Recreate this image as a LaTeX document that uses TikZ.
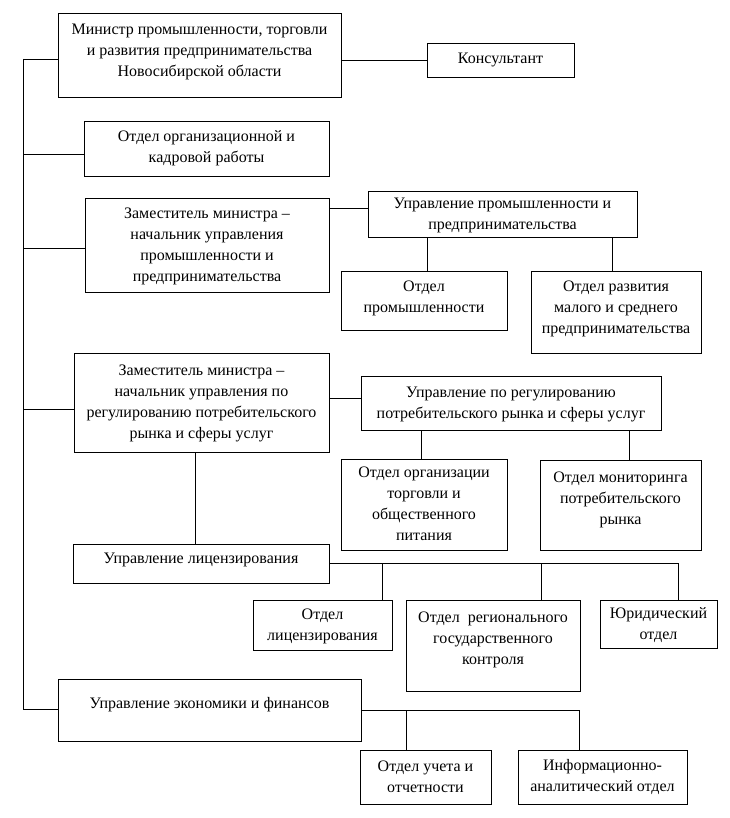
\documentclass[tikz,border=0pt]{standalone}
\usepackage{fontspec}
\setmainfont{Liberation Serif}
\usetikzlibrary{calc}
\tikzset{
  box/.style={draw,line width=0.9pt,align=center,inner sep=2pt,text depth=1pt,
    font=\fontsize{16}{21}\selectfont},
  conn/.style={line width=0.9pt},
  lift/.style={text depth=#1}
}

\begin{document}
\begin{tikzpicture}[x=1pt,y=-1pt]
  \useasboundingbox (0,0) rectangle (729,818);
  % top level
  \node[box,minimum width=283pt,minimum height=84pt,lift=9pt] (min) at (199.5,55)
    {Министр промышленности, торговли\\и развития предпринимательства\\Новосибирской области};
  \node[box,minimum width=147pt,minimum height=34pt,lift=3pt] (kons) at (500.5,60) {Консультант};
  \node[box,minimum width=245pt,minimum height=55pt,lift=4pt] (otdorg) at (206.5,148.5)
    {Отдел организационной и\\кадровой работы};
  % industry branch
  \node[box,minimum width=244pt,minimum height=94pt] (zam1) at (207,245)
    {Заместитель министра –\\начальник управления\\промышленности и\\предпринимательства};
  \node[box,minimum width=269pt,minimum height=46pt] (uprprom) at (502.5,214)
    {Управление промышленности и\\предпринимательства};
  \node[box,minimum width=166pt,minimum height=59pt,lift=8pt] (otdprom) at (424,300.5)
    {Отдел\\промышленности};
  \node[box,minimum width=170pt,minimum height=82pt,lift=9pt] (otdrazv) at (616,312)
    {Отдел развития\\малого и среднего\\предпринимательства};
  % consumer market branch
  \node[box,minimum width=255pt,minimum height=99pt] (zam2) at (201.5,402.5)
    {Заместитель министра –\\начальник управления по\\регулированию потребительского\\рынка и сферы услуг};
  \node[box,minimum width=300pt,minimum height=54pt] (uprpot) at (511,403)
    {Управление по регулированию\\потребительского рынка и сферы услуг};
  \node[box,minimum width=166pt,minimum height=91pt] (otdtorg) at (424,504.5)
    {Отдел организации\\торговли и\\общественного\\питания};
  \node[box,minimum width=161pt,minimum height=90pt,lift=14pt] (otdmon) at (620.5,505)
    {Отдел мониторинга\\потребительского\\рынка};
  % licensing
  \node[box,minimum width=256pt,minimum height=39pt,lift=10pt] (uprlic) at (201,563.5)
    {Управление лицензирования};
  \node[box,minimum width=139pt,minimum height=50pt] (otdlic) at (322.5,625)
    {Отдел\\лицензирования};
  \node[box,minimum width=174pt,minimum height=91pt,lift=14pt] (otdreg) at (493,645.5)
    {Отдел~ регионального\\государственного\\контроля};
  \node[box,minimum width=117pt,minimum height=48pt] (jur) at (658.5,624)
    {Юридический\\отдел};
  % economy
  \node[box,minimum width=303pt,minimum height=62pt,lift=15pt] (uprek) at (209.5,710)
    {Управление экономики и финансов};
  \node[box,minimum width=131pt,minimum height=54pt] (otduch) at (425.5,777)
    {Отдел учета и\\отчетности};
  \node[box,minimum width=169pt,minimum height=54pt,lift=4pt] (info) at (602.5,777)
    {Информационно-\\аналитический отдел};

  % left spine
  \coordinate (s1) at (23,59);
  \coordinate (s2) at (23,154);
  \coordinate (s3) at (23,248);
  \coordinate (s4) at (23,409);
  \coordinate (s5) at (23,709);
  \draw[conn] (s1) -- (s5);
  \draw[conn] (s1) -- (min.west |- s1);
  \draw[conn] (s2) -- (otdorg.west |- s2);
  \draw[conn] (s3) -- (zam1.west |- s3);
  \draw[conn] (s4) -- (zam2.west |- s4);
  \draw[conn] (s5) -- (uprek.west |- s5);

  \draw[conn] (min.east |- kons.west) -- (kons.west);
  \draw[conn] ([yshift=6pt]uprprom.west) -- ([yshift=6pt]zam1.east |- uprprom.west);
  \draw[conn] ([xshift=3pt]otdprom.north) -- ([xshift=3pt]otdprom.north |- uprprom.south);
  \draw[conn] ([xshift=-4pt]otdrazv.north) -- ([xshift=-4pt]otdrazv.north |- uprprom.south);
  \draw[conn] ([yshift=5pt]uprpot.west) -- ([yshift=5pt]zam2.east |- uprpot.west);
  \draw[conn] ([xshift=-3pt]otdtorg.north) -- ([xshift=-3pt]otdtorg.north |- uprpot.south);
  \draw[conn] ([xshift=8.5pt]otdmon.north) -- ([xshift=8.5pt]otdmon.north |- uprpot.south);
  \draw[conn] ([xshift=-6.5pt]zam2.south) -- ([xshift=-6.5pt]zam2.south |- uprlic.north);

  % licensing departments
  \coordinate (l1) at (382,563);
  \coordinate (l2) at (541,563);
  \coordinate (l3) at (678,563);
  \draw[conn] (uprlic.east |- l1) -- (l3) -- (l3 |- jur.north);
  \draw[conn] (l1) -- (l1 |- otdlic.north);
  \draw[conn] (l2) -- (l2 |- otdreg.north);

  % economy departments
  \coordinate (e1) at (406,710);
  \coordinate (e2) at (579,710);
  \draw[conn] (uprek.east |- e1) -- (e2) -- (e2 |- info.north);
  \draw[conn] (e1) -- (e1 |- otduch.north);
\end{tikzpicture}
\end{document}
